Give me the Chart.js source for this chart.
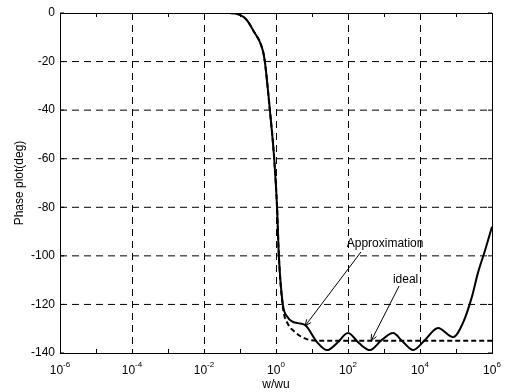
<!DOCTYPE html>
<html>
<head>
<meta charset="utf-8">
<script src="https://cdn.jsdelivr.net/npm/chart.js@4.4.1/dist/chart.umd.min.js"></script>
<style>
  html, body { margin: 0; padding: 0; background: #fff; }
  canvas { display: block; }
</style>
</head>
<body>
<canvas id="chart" width="505" height="392"></canvas>
<script>
// solid curve ("Approximation")
const approxW = [1e-6, 1e-3, 0.05, 0.1, 0.155, 0.229, 0.427, 0.49, 0.676, 0.891, 1.07, 1.2, 1.55, 2.04, 2.95, 4.07, 6.46, 13.8, 26.3, 49, 100, 204, 407, 871, 1780, 3390, 6460, 13800, 31600, 83200, 155000, 275000, 407000, 646000, 1e6];
const approxPhase = [0, 0, 0, -0.8, -2.9, -7, -15.2, -20, -40, -60, -80, -100, -120, -125, -127.2, -127.7, -128.5, -135.5, -138.8, -136, -131.8, -136, -138.8, -134.6, -131.8, -135.5, -138.8, -134.6, -129.7, -133.5, -127.7, -117, -107, -97.6, -88];

// dashed curve ("ideal")
const idealW = [1e-6, 1e-3, 0.05, 0.1, 0.155, 0.229, 0.427, 0.49, 0.676, 0.891, 1.07, 1.2, 1.55, 2.14, 3.16, 4.68, 7.94, 13.8, 1e6];
const idealPhase = [0, 0, 0, -0.8, -2.9, -7, -15.2, -20, -40, -60, -80, -100, -121, -128, -131, -133, -134.5, -135, -135];

// axes
const xGridW = [1e-4, 1e-2, 1, 1e2, 1e4];
const xLabelExp = [-6, -4, -2, 0, 2, 4, 6];
const xMinorExp = [-6, -5, -4, -3, -2, -1, 0, 1, 2, 3, 4, 5, 6];
const yTicks = [0, -20, -40, -60, -80, -100, -120, -140];

// text annotations: [label, textW, textPhase, fromW, fromPhase, tipW, tipPhase]
const notes = [
  ["Approximation", 1070, -95, 229, -98.4, 6.4, -128.9],
  ["ideal", 3980, -110, 2630, -112.4, 437, -135.1]
];

const FONT = 'Arial, "Liberation Sans", Helvetica, sans-serif';

const toPts = (xs, ys) => xs.map((x, i) => ({ x: x, y: ys[i] }));

const matlabAxes = {
  id: "matlabAxes",
  beforeDatasetsDraw(chart) {
    const { ctx, chartArea: a, scales: { x, y } } = chart;
    ctx.save();
    ctx.lineWidth = 1;
    ctx.strokeStyle = "#000";
    ctx.setLineDash([7, 5]);
    xGridW.forEach(w => {
      const px = Math.round(x.getPixelForValue(w)) + 0.5;
      ctx.beginPath(); ctx.moveTo(px, a.top); ctx.lineTo(px, a.bottom); ctx.stroke();
    });
    yTicks.slice(1, -1).forEach(v => {
      const py = y.getPixelForValue(v);
      ctx.beginPath(); ctx.moveTo(a.left, py); ctx.lineTo(a.right, py); ctx.stroke();
    });
    ctx.restore();
  },
  afterDatasetsDraw(chart) {
    const { ctx, chartArea: a, scales: { x, y } } = chart;
    ctx.save();
    ctx.strokeStyle = "#000";
    ctx.lineWidth = 1;
    // tick marks, inside the box
    xMinorExp.forEach(e => {
      const px = Math.round(x.getPixelForValue(Math.pow(10, e))) + 0.5;
      ctx.beginPath();
      ctx.moveTo(px, a.bottom); ctx.lineTo(px, a.bottom - 4);
      ctx.moveTo(px, a.top); ctx.lineTo(px, a.top + 4);
      ctx.stroke();
    });
    yTicks.forEach(v => {
      const py = y.getPixelForValue(v);
      ctx.beginPath();
      ctx.moveTo(a.left, py); ctx.lineTo(a.left + 4, py);
      ctx.moveTo(a.right, py); ctx.lineTo(a.right - 4, py);
      ctx.stroke();
    });
    // frame
    ctx.strokeRect(Math.round(a.left) + 0.5, Math.round(a.top) + 0.5,
      Math.round(a.right - a.left), Math.round(a.bottom - a.top));

    // x tick labels as 10^n
    ctx.fillStyle = "#000";
    ctx.textBaseline = "alphabetic";
    ctx.textAlign = "left";
    xLabelExp.forEach(e => {
      const px = x.getPixelForValue(Math.pow(10, e));
      ctx.font = "12px " + FONT;
      const wBase = ctx.measureText("10").width;
      ctx.font = "8px " + FONT;
      const wExp = ctx.measureText(String(e)).width;
      const left = px - (wBase + wExp) / 2;
      ctx.font = "12px " + FONT;
      ctx.fillText("10", left, a.bottom + 21);
      ctx.font = "8px " + FONT;
      ctx.fillText(String(e), left + wBase, a.bottom + 14);
    });

    // annotations with arrows
    ctx.font = "12px " + FONT;
    ctx.textAlign = "center";
    ctx.textBaseline = "middle";
    notes.forEach(n => {
      ctx.fillText(n[0], x.getPixelForValue(n[1]), y.getPixelForValue(n[2]));
      const x0 = x.getPixelForValue(n[3]), y0 = y.getPixelForValue(n[4]);
      const x1 = x.getPixelForValue(n[5]), y1 = y.getPixelForValue(n[6]);
      const ang = Math.atan2(y1 - y0, x1 - x0);
      ctx.beginPath();
      ctx.moveTo(x0, y0); ctx.lineTo(x1, y1);
      ctx.moveTo(x1, y1); ctx.lineTo(x1 - 7 * Math.cos(ang - 0.4), y1 - 7 * Math.sin(ang - 0.4));
      ctx.moveTo(x1, y1); ctx.lineTo(x1 - 7 * Math.cos(ang + 0.4), y1 - 7 * Math.sin(ang + 0.4));
      ctx.stroke();
    });
    ctx.restore();
  }
};

new Chart(document.getElementById("chart"), {
  type: "line",
  data: {
    datasets: [
      {
        label: "Approximation",
        data: toPts(approxW, approxPhase),
        borderColor: "#000",
        borderWidth: 2,
        pointRadius: 0,
        cubicInterpolationMode: "monotone",
        fill: false
      },
      {
        label: "ideal",
        data: toPts(idealW, idealPhase),
        borderColor: "#000",
        borderWidth: 2,
        borderDash: [5, 3],
        pointRadius: 0,
        cubicInterpolationMode: "monotone",
        fill: false
      }
    ]
  },
  options: {
    responsive: false,
    animation: false,
    devicePixelRatio: 1,
    layout: { padding: { top: 13, right: 13, left: 0, bottom: 0 } },
    plugins: { legend: { display: false }, tooltip: { enabled: false } },
    scales: {
      x: {
        type: "logarithmic",
        min: 1e-6,
        max: 1e6,
        grid: { display: false },
        border: { display: false },
        ticks: { display: false },
        title: { display: true, text: "w/wu", color: "#000", font: { family: FONT, size: 12 }, padding: { top: 0, bottom: 0 } },
        afterFit(s) { s.height = 39; }
      },
      y: {
        min: -140,
        max: 0,
        grid: { display: false, drawTicks: false },
        border: { display: false },
        ticks: { stepSize: 20, color: "#000", padding: 5, font: { family: FONT, size: 12 } },
        title: { display: true, text: "Phase plot(deg)", color: "#000", font: { family: FONT, size: 12 }, padding: { top: 12, bottom: 0 } },
        afterFit(s) { s.width = 60; }
      }
    }
  },
  plugins: [matlabAxes]
});
</script>
</body>
</html>
